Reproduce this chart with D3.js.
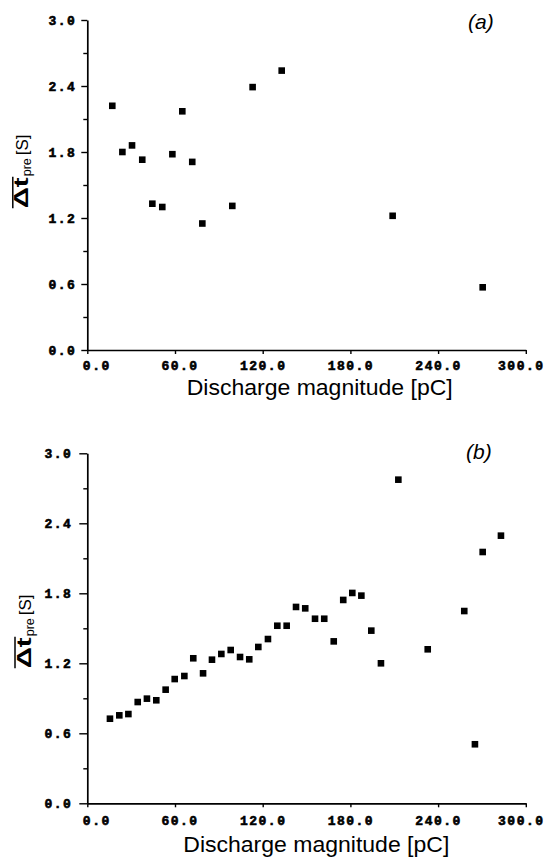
<!DOCTYPE html>
<html><head><meta charset="utf-8">
<script src="https://cdn.jsdelivr.net/npm/d3@7"></script>
<style>body{margin:0;background:#fff}</style>
</head><body>
<svg id="c" width="553" height="858"></svg>
<script>
// ---- data ----
const xTicks = [0, 60, 120, 180, 240, 300];
const yTicks = [0, 0.6, 1.2, 1.8, 2.4, 3.0];
const yMinor = [0.3, 0.9, 1.5, 2.1, 2.7];
const xTitle = "Discharge magnitude [pC]";
const panelLabels = ["(a)", "(b)"];

const xA = [17.1, 24.0, 30.6, 37.6, 44.5, 51.3, 58.2, 65.0, 71.8, 78.7, 99.2, 113.1, 133.0, 208.9, 270.5];
const yA = [2.22, 1.80, 1.86, 1.73, 1.33, 1.30, 1.78, 2.17, 1.71, 1.15, 1.31, 2.39, 2.54, 1.22, 0.57];

const xB = [15.5, 21.9, 28.1, 34.5, 40.8, 47.2, 53.6, 59.8, 66.4, 72.5, 79.2, 85.3, 91.7, 98.1, 104.5, 110.8,
            117.0, 123.6, 130.0, 136.4, 142.8, 149.1, 155.8, 162.1, 168.6, 175.1, 181.3, 187.5, 194.3, 200.9,
            212.8, 232.9, 257.9, 265.2, 270.5, 283.0];
const yB = [0.725, 0.754, 0.765, 0.868, 0.897, 0.883, 0.974, 1.065, 1.091, 1.243, 1.114, 1.231, 1.28, 1.314, 1.254, 1.234,
            1.34, 1.408, 1.522, 1.522, 1.683, 1.671, 1.582, 1.582, 1.388, 1.743, 1.803, 1.78, 1.48, 1.20,
            2.774, 1.32, 1.648, 0.506, 2.154, 2.294];

// ---- layout ----
const svg = d3.select("#c");
const left = 87.3, right = 525.8;
const panels = [
  {xs: xA, ys: yA, top: 20, bottom: 350, label: panelLabels[0], labX: 468, labY: 29,
   titleX: 186.7, titleY: 395, xPad: 7, yTick: 6, yPad: 5, yTitleX: 28.3, yTitleY: 208.3},
  {xs: xB, ys: yB, top: 453.3, bottom: 803.3, label: panelLabels[1], labX: 466, labY: 459,
   titleX: 183.3, titleY: 851.7, xPad: 8, yTick: 8, yPad: 7, yTitleX: 30.5, yTitleY: 668.3}
];
const monoFont = "'Liberation Mono', 'DejaVu Sans Mono', monospace";
const sansFont = "'Liberation Sans', Arial, Helvetica, sans-serif";

panels.forEach(p => {
  const x = d3.scaleLinear().domain([0, 300]).range([left, right]);
  const y = d3.scaleLinear().domain([0, 3]).range([p.bottom, p.top]);

  // x axis
  const gx = svg.append("g").attr("transform", `translate(0,${p.bottom})`)
    .call(d3.axisBottom(x).tickValues(xTicks).tickSize(4).tickSizeOuter(0).tickPadding(p.xPad)
      .tickFormat(d3.format(".1f")));
  gx.selectAll("text")
    .attr("dx", (d, i) => i === xTicks.length - 1 ? -5 : (5 - d3.format(".1f")(d).length) * 4.5);

  // y axis major
  const gy = svg.append("g").attr("transform", `translate(${left},0)`)
    .call(d3.axisLeft(y).tickValues(yTicks).tickSize(p.yTick).tickSizeOuter(0).tickPadding(p.yPad)
      .tickFormat(d3.format(".1f")));
  // y axis minor
  const gm = svg.append("g").attr("transform", `translate(${left},0)`)
    .call(d3.axisLeft(y).tickValues(yMinor).tickSize(4).tickFormat(""));
  gm.select(".domain").remove();

  [gx, gy, gm].forEach(g => {
    g.attr("font-family", monoFont).attr("font-size", 13).attr("font-weight", "bold");
    g.selectAll("text").attr("fill", "#000").attr("stroke", "#000").attr("stroke-width", 0.6)
      .attr("letter-spacing", 1.5);
    g.selectAll("line").attr("stroke", "#000").attr("stroke-width", 1.4);
    g.select(".domain").attr("stroke", "#000").attr("stroke-width", 1.7);
  });

  // points
  svg.append("g").selectAll("rect")
    .data(p.xs.map((v, i) => [v, p.ys[i]]))
    .join("rect")
    .attr("x", d => x(d[0]) - 3.3).attr("y", d => y(d[1]) - 3.3)
    .attr("width", 6.6).attr("height", 6.6).attr("fill", "#000");

  // panel label
  svg.append("text").attr("x", p.labX).attr("y", p.labY)
    .attr("font-family", sansFont).attr("font-style", "italic").attr("font-size", 21)
    .text(p.label);

  // x title
  svg.append("text").attr("x", p.titleX).attr("y", p.titleY)
    .attr("font-family", sansFont).attr("font-size", 22)
    .attr("textLength", 266).attr("lengthAdjust", "spacingAndGlyphs")
    .text(xTitle);

  // y title
  const gt = svg.append("g").attr("transform", `translate(${p.yTitleX},${p.yTitleY}) rotate(-90)`);
  gt.append("text").attr("x", 0).attr("y", 0)
    .attr("font-family", sansFont).attr("font-weight", "bold").attr("font-size", 20)
    .attr("textLength", 31).attr("lengthAdjust", "spacingAndGlyphs").text("\u0394t");
  gt.append("text").attr("x", 32).attr("y", 3)
    .attr("font-family", sansFont).attr("font-size", 12.5).text("pre");
  gt.append("text").attr("x", 53).attr("y", 0)
    .attr("font-family", sansFont).attr("font-size", 17).text("[S]");
  gt.append("line").attr("x1", 0).attr("x2", 31.5).attr("y1", -15.5).attr("y2", -15.5)
    .attr("stroke", "#000").attr("stroke-width", 1.5);
});
</script>
</body></html>
